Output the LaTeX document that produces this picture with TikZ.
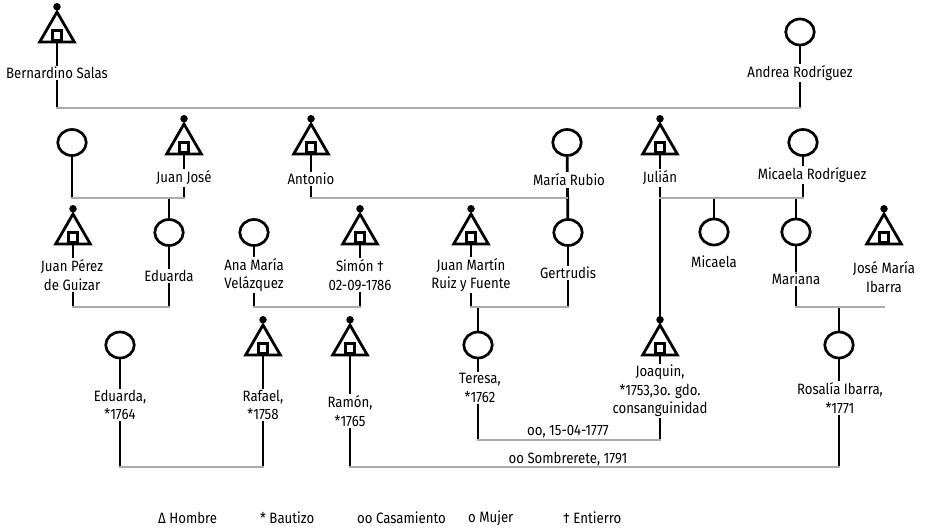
\documentclass[tikz,border=0pt]{standalone}
\usepackage{fontspec}
\setmainfont{Fira Sans}[FakeStretch=0.88]
\usetikzlibrary{shapes.geometric,backgrounds}

\tikzset{
  hombre/.style={draw, line width=2.8pt, fill=white, regular polygon, regular polygon sides=3,
    minimum size=40pt, inner sep=0pt,
    path picture={\draw[line width=2.8pt] ([shift={(-4.75pt,-13.25pt)}]path picture bounding box.center) rectangle +(9.5pt,9.5pt);},
    label={[circle, fill=black, inner sep=0pt, minimum size=7.5pt, label distance=-1.5pt]90:{}}},
  mujer/.style={draw, ellipse, line width=2.7pt, fill=white, minimum width=28.5pt, minimum height=26pt, inner sep=0pt},
  nombre/.style={fill=white, align=center, inner sep=1.5pt, font=\fontsize{15pt}{18.5pt}\selectfont},
  leyenda/.style={anchor=west, inner sep=0pt, font=\fontsize{15pt}{18.5pt}\selectfont},
  linea/.style={line width=2.8pt},
  casamiento/.style={line width=2.8pt, black!33, line cap=rect}
}

\begin{document}
\begin{tikzpicture}[x=1pt, y=-1pt]
  \useasboundingbox (0,0) rectangle (931,528);

  % niveles de los casamientos
  \coordinate (y1) at (0,108);
  \coordinate (y2) at (0,198);
  \coordinate (y3) at (0,307);
  \coordinate (y4) at (0,440);
  \coordinate (y5) at (0,467);

  % primera generacion
  \node[hombre] (bernardino) at (57,32) {};
  \node[mujer] (andrea) at (800,32) {};
  \node[nombre] (l-bernardino) at (57,73) {Bernardino Salas};
  \node[nombre] (l-andrea) at (800,73) {Andrea Rodríguez};

  % segunda generacion
  \node[mujer] (anon) at (72,142.5) {};
  \node[hombre] (juanjose) at (184,144) {};
  \node[hombre] (antonio) at (311,144) {};
  \node[mujer] (mariarubio) at (567,142.5) {};
  \node[hombre] (julian) at (660,144) {};
  \node[mujer] (micaelar) at (803,142.5) {};
  \node[nombre] (l-juanjose) at (184,178) {Juan José};
  \node[nombre] (l-antonio) at (311,179) {Antonio};
  \node[nombre] (l-mariarubio) at (569,180) {María Rubio};
  \node[nombre] (l-julian) at (660,178) {Julián};
  \node[nombre] (l-micaelar) at (812,175) {Micaela Rodríguez};

  % tercera generacion
  \node[hombre] (juanperez) at (73,234) {};
  \node[mujer] (eduarda) at (169,232.5) {};
  \node[mujer] (anamaria) at (254,232.5) {};
  \node[hombre] (simon) at (360,234) {};
  \node[hombre] (juanmartin) at (471,234) {};
  \node[mujer] (gertrudis) at (568,232.5) {};
  \node[mujer] (micaela) at (714,232) {};
  \node[mujer] (mariana) at (796,232) {};
  \node[hombre] (josemaria) at (884,234) {};
  \node[nombre] (l-juanperez) at (72,275) {Juan Pérez\\de Guizar};
  \node[nombre] (l-eduarda) at (169,276) {Eduarda};
  \node[nombre] (l-anamaria) at (254,275) {Ana María\\Velázquez};
  \node[nombre] (l-simon) at (360,275) {Simón †\\02-09-1786};
  \node[nombre] (l-juanmartin) at (471,275) {Juan Martín\\Ruiz y Fuente};
  \node[nombre] (l-gertrudis) at (568,273) {Gertrudis};
  \node[nombre] (l-micaela) at (714,262) {Micaela};
  \node[nombre] (l-mariana) at (796,279) {Mariana};
  \node[nombre] (l-josemaria) at (884,277) {José María\\Ibarra};

  % cuarta generacion
  \node[mujer] (eduarda2) at (120,345) {};
  \node[hombre] (rafael) at (263,345) {};
  \node[hombre] (ramon) at (350,345) {};
  \node[mujer] (teresa) at (478,345) {};
  \node[hombre] (joaquin) at (660,345) {};
  \node[mujer] (rosalia) at (839,345) {};
  \node[nombre] (l-eduarda2) at (120,405) {Eduarda,\\*1764};
  \node[nombre] (l-rafael) at (263,405) {Rafael,\\*1758};
  \node[nombre] (l-ramon) at (350,411) {Ramón,\\*1765};
  \node[nombre] (l-teresa) at (480,388) {Teresa,\\*1762};
  \node[nombre] (l-joaquin) at (660,391) {Joaquin,\\*1753,3o. gdo.\\consanguinidad};
  \node[nombre] (l-rosalia) at (840,398) {Rosalía Ibarra,\\*1771};

  % fechas de casamiento
  \node[nombre, fill=none] (f-teresa) at (568,432) {oo, 15-04-1777};
  \node[nombre, fill=none] (f-ramon) at (568,459) {oo Sombrerete, 1791};

  % leyenda
  \node[leyenda] (k-hombre) at (158,518) {Δ Hombre};
  \node[leyenda] (k-bautizo) at (260,518) {* Bautizo};
  \node[leyenda] (k-casamiento) at (357,518) {oo Casamiento};
  \node[leyenda] (k-mujer) at (468,518) {o Mujer};
  \node[leyenda] (k-entierro) at (563,518) {† Entierro};

  \begin{scope}[on background layer]
    % lineas de cada persona
    \foreach \p in {bernardino,andrea}
      \draw[linea] (\p) -- (\p |- y1);
    \foreach \p in {anon,juanjose,antonio,micaelar}
      \draw[linea] (\p) -- (\p |- y2);
    \foreach \p in {juanperez,eduarda,anamaria,simon,juanmartin,gertrudis,mariana}
      \draw[linea] (\p) -- (\p |- y3);
    \draw[linea] (julian) -- (joaquin);
    \draw[linea] (mariarubio) -- (gertrudis);
    \foreach \p in {teresa,joaquin}
      \draw[linea] (\p) -- (\p |- y4);
    \foreach \p in {eduarda2,rafael,ramon,rosalia}
      \draw[linea] (\p) -- (\p |- y5);
    % descendencia
    \draw[linea] (eduarda |- y2) -- (eduarda);
    \draw[linea] (micaela |- y2) -- (micaela);
    \draw[linea] (mariana |- y2) -- (mariana);
    \draw[linea] (teresa |- y3) -- (teresa);
    \draw[linea] (rosalia |- y3) -- (rosalia);
    % casamientos
    \draw[casamiento] (bernardino |- y1) -- (andrea |- y1);
    \draw[casamiento] (anon |- y2) -- (juanjose |- y2);
    \draw[casamiento] (antonio |- y2) -- (mariarubio |- y2);
    \draw[casamiento] (julian |- y2) -- (micaelar |- y2);
    \draw[casamiento] (juanperez |- y3) -- (eduarda |- y3);
    \draw[casamiento] (anamaria |- y3) -- (simon |- y3);
    \draw[casamiento] (juanmartin |- y3) -- (gertrudis |- y3);
    \draw[casamiento] (mariana |- y3) -- (josemaria |- y3);
    \draw[casamiento] (teresa |- y4) -- (joaquin |- y4);
    \draw[casamiento] (eduarda2 |- y5) -- (rafael |- y5);
    \draw[casamiento] (ramon |- y5) -- (rosalia |- y5);
  \end{scope}
\end{tikzpicture}
\end{document}
